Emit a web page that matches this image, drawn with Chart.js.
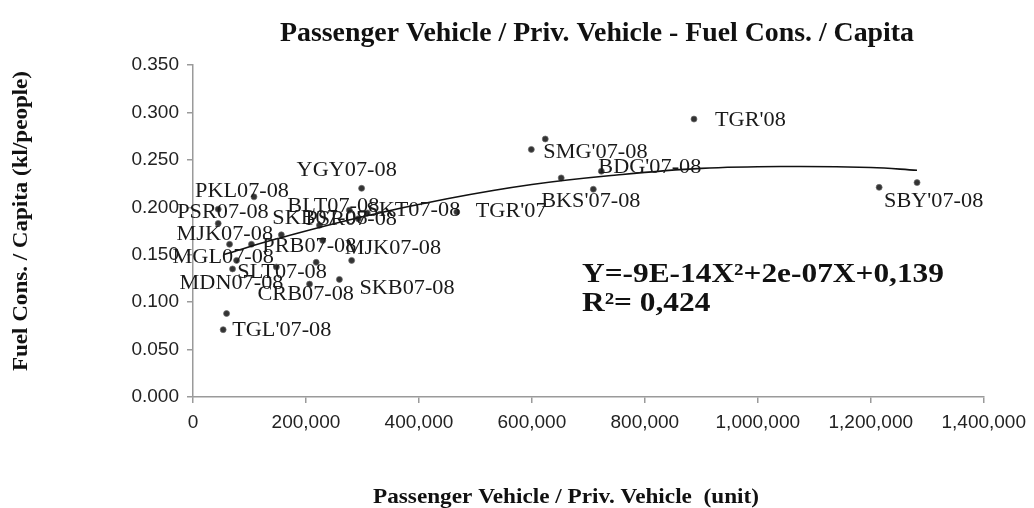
<!DOCTYPE html>
<html>
<head>
<meta charset="utf-8">
<script src="https://cdn.jsdelivr.net/npm/chart.js@4.4.1/dist/chart.umd.min.js"></script>
<style>
  html, body { margin: 0; padding: 0; background: #fff; }
  #wrap { width: 1034px; height: 508px; }
</style>
</head>
<body>
<div id="wrap"><canvas id="scatterChart" width="1034" height="508"></canvas></div>
<script>
// City / period labels (empty = unlabeled point)
const cities = [
    "YGY07-08", "PKL07-08", "PSR07-08", "", "MJK07-08", "", "PRB07-08", "MGL07-08",
    "MDN07-08", "SLT07-08", "", "", "MJK07-08", "SKB07-08", "CRB07-08", "",
    "TGL'07-08", "BLT07-08", "SKB07-08", "SKT07-08", "PSR07-08", "TGR'07",
    "SMG'07-08", "", "BKS'07-08", "", "BDG'07-08", "TGR'08", "", "SBY'07-08"
];
// Passenger vehicle / private vehicle (unit)
const vehicles = [
    298500, 108000, 44600, 44600, 64700, 103500, 156400, 77100,
    70000, 147600, 218100, 229700, 280900, 259200, 206300, 59400,
    53400, 276800, 292700, 308600, 223900, 467000,
    599000, 623700, 651900, 708800, 723000, 887000, 1214800, 1281900
];
// Fuel consumption per capita (kl/people)
const fuelPerCapita = [
    0.220, 0.211, 0.198, 0.183, 0.161, 0.161, 0.171, 0.144,
    0.135, 0.137, 0.142, 0.165, 0.144, 0.124, 0.119, 0.088,
    0.071, 0.197, 0.188, 0.194, 0.181, 0.195,
    0.261, 0.272, 0.231, 0.219, 0.238, 0.293, 0.221, 0.226
];
// Polynomial trendline
const trendX = [53400, 150000, 300000, 450000, 600000, 750000, 900000, 1050000, 1200000, 1281900];
const trendY = [0.150, 0.167, 0.190, 0.209, 0.224, 0.234, 0.241, 0.243, 0.242, 0.239];

const xTicks = [0, 200000, 400000, 600000, 800000, 1000000, 1200000, 1400000];
const yTicks = [0, 0.05, 0.10, 0.15, 0.20, 0.25, 0.30, 0.35];

// label nudges in px (dx to label left edge, dy to label middle)
const labelShift = [
    [-65, -18], [-59, -5], [-41, 3], [0, 0], [-53, -10], [0, 0], [-19, 12], [-64, -3],
    [-53, 15], [-39, 5], [0, 0], [0, 0], [-7, -12], [20, 9], [-52, 10], [0, 0],
    [9, 1], [-62, -4], [-86, 0], [-1, -2], [-14, -6], [19, -1],
    [12, 3], [0, 0], [-20, 24], [0, 0], [-3, -4], [21, 1], [0, 0], [-33, 19]
];

const serif = '"Liberation Serif", "Times New Roman", serif';
const sans = '"Liberation Sans", Arial, sans-serif';

// draw text squeezed / stretched horizontally to a given width
function fitText(ctx, text, x, y, width, align) {
    const w = ctx.measureText(text).width;
    const k = width / w;
    ctx.save();
    ctx.translate(x, y);
    ctx.scale(k, 1);
    ctx.textAlign = align;
    ctx.fillText(text, 0, 0);
    ctx.restore();
    return k;
}

const textPlugin = {
    id: 'chartText',
    afterDatasetsDraw(chart) {
        const ctx = chart.ctx;
        const meta = chart.getDatasetMeta(1);
        ctx.save();
        ctx.fillStyle = '#1a1a1a';
        ctx.font = '21px ' + serif;
        ctx.textAlign = 'left';
        ctx.textBaseline = 'middle';
        meta.data.forEach((pt, i) => {
            if (!cities[i]) return;
            const s = labelShift[i];
            fitText(ctx, cities[i], pt.x + s[0], pt.y + s[1], ctx.measureText(cities[i]).width * 1.06, 'left');
        });
        ctx.restore();
    },
    afterDraw(chart) {
        const ctx = chart.ctx;
        ctx.save();
        ctx.fillStyle = '#111';
        ctx.textBaseline = 'middle';

        ctx.font = 'bold 28px ' + serif;
        fitText(ctx, 'Passenger Vehicle / Priv. Vehicle - Fuel Cons. / Capita', 597, 34, 634, 'center');

        ctx.font = 'bold 22px ' + serif;
        fitText(ctx, 'Passenger Vehicle / Priv. Vehicle  (unit)', 566, 497, 386, 'center');

        ctx.save();
        ctx.translate(21, 221);
        ctx.rotate(-Math.PI / 2);
        fitText(ctx, 'Fuel Cons. / Capita (kl/people)', 0, 0, 300, 'center');
        ctx.restore();

        ctx.textBaseline = 'alphabetic';
        ctx.font = 'bold 27px ' + serif;
        const eq = 'Y=-9E-14X\u00B2+2e-07X+0,139';
        const k = fitText(ctx, eq, 582, 282, 362, 'left');
        const r2 = 'R\u00B2= 0,424';
        fitText(ctx, r2, 582, 311, ctx.measureText(r2).width * k, 'left');
        ctx.restore();
    }
};

document.addEventListener('DOMContentLoaded', function () {
    const ctx = document.getElementById('scatterChart').getContext('2d');
    new Chart(ctx, {
        type: 'scatter',
        data: {
            datasets: [
                {
                    label: 'Trend',
                    data: trendX.map((x, i) => ({ x: x, y: trendY[i] })),
                    showLine: true,
                    borderColor: '#111',
                    borderWidth: 1.6,
                    pointRadius: 0,
                    tension: 0.4,
                    fill: false
                },
                {
                    label: 'Cities',
                    data: vehicles.map((x, i) => ({ x: x, y: fuelPerCapita[i] })),
                    pointRadius: 3,
                    pointBackgroundColor: '#333',
                    pointBorderColor: 'rgba(110,110,110,0.7)',
                    pointBorderWidth: 1
                }
            ]
        },
        options: {
            responsive: false,
            animation: false,
            devicePixelRatio: 1,
            layout: { padding: { top: 65, right: 47, left: 0, bottom: 0 } },
            plugins: {
                legend: { display: false },
                tooltip: { enabled: false },
                title: { display: false }
            },
            scales: {
                x: {
                    type: 'linear',
                    min: 0,
                    max: 1400000,
                    afterBuildTicks: s => { s.ticks = xTicks.map(v => ({ value: v })); },
                    afterFit: s => { s.height = 111; },
                    border: { color: '#9a9a9a', width: 1.5 },
                    grid: { drawOnChartArea: false, tickLength: 6, color: '#9a9a9a', lineWidth: 1.5 },
                    ticks: {
                        padding: 8,
                        color: '#222',
                        font: { family: sans, size: 19 },
                        maxRotation: 0,
                        callback: v => v.toLocaleString('en-US')
                    }
                },
                y: {
                    min: 0,
                    max: 0.35,
                    afterBuildTicks: s => { s.ticks = yTicks.map(v => ({ value: v })); },
                    afterFit: s => { s.width = 193; },
                    border: { color: '#9a9a9a', width: 1.5 },
                    grid: { drawOnChartArea: false, tickLength: 6, color: '#9a9a9a', lineWidth: 1.5 },
                    ticks: {
                        padding: 8,
                        color: '#222',
                        font: { family: sans, size: 19 },
                        callback: v => v.toFixed(3)
                    }
                }
            }
        },
        plugins: [textPlugin]
    });
});
</script>
</body>
</html>
